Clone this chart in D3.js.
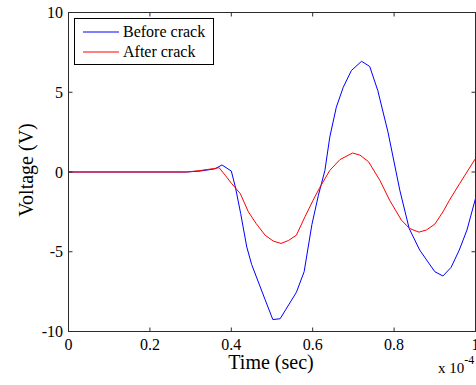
<!DOCTYPE html>
<html><head><meta charset="utf-8">
<script src="https://cdn.jsdelivr.net/npm/d3@7"></script>
<style>body{margin:0;background:#fff;} svg{display:block;}</style>
</head><body>
<script>
const xTicks = [0, 0.2, 0.4, 0.6, 0.8, 1];
const xTickLabels = ["0", "0.2", "0.4", "0.6", "0.8", "1"];
const yTicks = [-10, -5, 0, 5, 10];
const yTickLabels = ["-10", "-5", "0", "5", "10"];
const seriesNames = ["Before crack", "After crack"];
const seriesColors = ["#0000ff", "#ff0000"];

const beforeT = [0, 0.29, 0.324, 0.36, 0.377, 0.40, 0.41, 0.423, 0.438, 0.45, 0.483, 0.502, 0.52, 0.56, 0.579, 0.598, 0.614, 0.630, 0.642, 0.658, 0.675, 0.695, 0.72, 0.74, 0.76, 0.785, 0.814, 0.837, 0.863, 0.90, 0.92, 0.94, 0.96, 0.979, 1.0];
const beforeV = [0, 0, 0.06, 0.2, 0.44, 0.06, -0.94, -2.6, -4.7, -5.8, -8.0, -9.25, -9.2, -7.54, -6.25, -3.3, -1.46, 0.1, 2.19, 4.06, 5.31, 6.36, 6.94, 6.62, 5.1, 2.5, -1.14, -3.54, -4.9, -6.25, -6.52, -5.98, -4.9, -3.64, -1.66];

const afterT = [0, 0.29, 0.32, 0.356, 0.37, 0.385, 0.401, 0.422, 0.442, 0.461, 0.483, 0.503, 0.522, 0.54, 0.56, 0.581, 0.601, 0.616, 0.642, 0.667, 0.698, 0.716, 0.737, 0.765, 0.789, 0.818, 0.838, 0.861, 0.879, 0.9, 0.92, 0.936, 0.961, 1.0];
const afterV = [0, 0, 0.08, 0.21, 0.27, -0.2, -0.73, -1.35, -2.5, -3.23, -3.96, -4.33, -4.48, -4.3, -3.96, -2.81, -1.77, -1.04, 0.1, 0.78, 1.19, 1.06, 0.65, -0.52, -1.77, -3.02, -3.54, -3.77, -3.64, -3.27, -2.5, -1.77, -0.73, 0.85];

const W = 476, H = 385;
const svg = d3.select("body").append("svg").attr("width", W).attr("height", H);
const x = d3.scaleLinear().domain([0, 1]).range([68.5, 475.5]);
const y = d3.scaleLinear().domain([-10, 10]).range([331.5, 12.5]);
const fontF = "'Liberation Serif', 'Times New Roman', serif";
const axisColor = "#2b2b2b";

// data lines
const series = [
  {name: seriesNames[0], color: seriesColors[0], t: beforeT, v: beforeV},
  {name: seriesNames[1], color: seriesColors[1], t: afterT, v: afterV}
];
const line = d3.line().x(d => x(d[0])).y(d => y(d[1]));
series.forEach(s => {
  svg.append("path")
    .datum(s.t.map((t, i) => [t, s.v[i]]))
    .attr("d", line)
    .attr("fill", "none")
    .attr("stroke", s.color)
    .attr("stroke-width", 1);
});

// frame
const g = svg.append("g");
g.append("rect").attr("x", x(0)).attr("y", y(10))
  .attr("width", x(1) - x(0)).attr("height", y(-10) - y(10))
  .attr("fill", "none").attr("stroke", axisColor).attr("stroke-width", 1);

// ticks
const tl = 4;
xTicks.forEach((t, i) => {
  g.append("line").attr("x1", x(t)).attr("x2", x(t)).attr("y1", y(-10)).attr("y2", y(-10) - tl).attr("stroke", axisColor);
  g.append("line").attr("x1", x(t)).attr("x2", x(t)).attr("y1", y(10)).attr("y2", y(10) + tl).attr("stroke", axisColor);
  g.append("text").attr("x", x(t)).attr("y", 349.5).attr("text-anchor", "middle")
    .attr("font-family", fontF).attr("font-size", 16).attr("fill", "#000").text(xTickLabels[i]);
});
yTicks.forEach((v, i) => {
  g.append("line").attr("x1", x(0)).attr("x2", x(0) + tl).attr("y1", y(v)).attr("y2", y(v)).attr("stroke", axisColor);
  g.append("line").attr("x1", x(1)).attr("x2", x(1) - tl).attr("y1", y(v)).attr("y2", y(v)).attr("stroke", axisColor);
  g.append("text").attr("x", 63).attr("y", y(v)).attr("dy", "0.35em").attr("text-anchor", "end")
    .attr("font-family", fontF).attr("font-size", 16).attr("fill", "#000").text(yTickLabels[i]);
});

// axis labels
svg.append("text").attr("x", 271).attr("y", 369).attr("text-anchor", "middle")
  .attr("font-family", fontF).attr("font-size", 20).attr("fill", "#000").text("Time (sec)");
svg.append("text").attr("transform", "translate(33,170) rotate(-90)").attr("text-anchor", "middle")
  .attr("font-family", fontF).attr("font-size", 20).attr("fill", "#000").text("Voltage (V)");
const mult = svg.append("text").attr("x", 438).attr("y", 373)
  .attr("font-family", fontF).attr("font-size", 15).attr("fill", "#000");
mult.append("tspan").text("x 10");
mult.append("tspan").attr("dy", -9).attr("font-size", 12).text("-4");

// legend
const lg = svg.append("g");
lg.append("rect").attr("x", 74.5).attr("y", 18.5).attr("width", 139).attr("height", 46)
  .attr("fill", "#fff").attr("stroke", "#000").attr("stroke-width", 1);
series.forEach((s, i) => {
  const ly = 32 + i * 20;
  lg.append("line").attr("x1", 83).attr("x2", 119).attr("y1", ly).attr("y2", ly)
    .attr("stroke", s.color).attr("stroke-width", 1);
  lg.append("text").attr("x", 123).attr("y", ly + 5)
    .attr("font-family", fontF).attr("font-size", 16).attr("fill", "#000").text(s.name);
});
</script>
</body></html>
